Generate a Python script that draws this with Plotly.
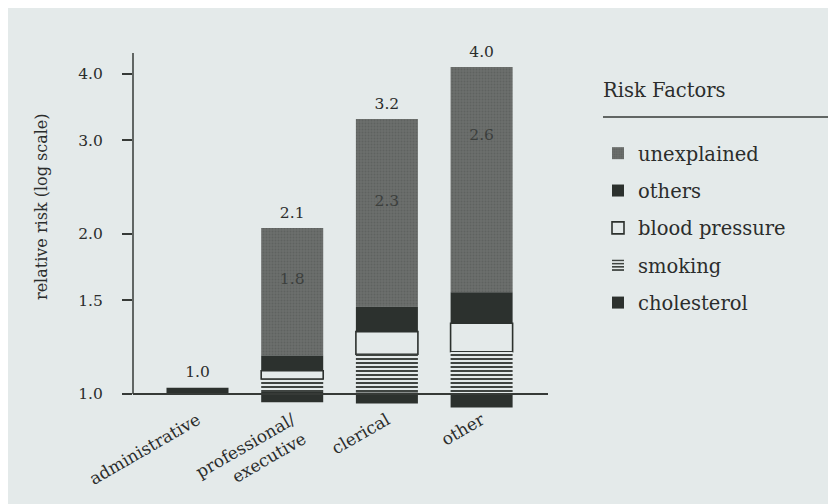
import plotly.graph_objects as go

# ---------------- data ----------------
categories = ["administrative", "professional/<br>executive", "clerical", "other"]
bar_base = [1.000, 0.965, 0.960, 0.943]
cholesterol_top = [1.028, 1.009, 1.006, 1.003]
smoking_top = [None, 1.067, 1.188, 1.201]
blood_pressure_top = [None, 1.106, 1.310, 1.359]
others_top = [None, 1.181, 1.460, 1.554]
unexplained_top = [None, 2.052, 3.291, 4.123]
total_labels = ["1.0", "2.1", "3.2", "4.0"]
unexplained_labels = ["", "1.8", "2.3", "2.6"]
unexplained_label_at = [None, 1.64, 2.30, 3.05]
y_tick_values = [1.0, 1.5, 2.0, 3.0, 4.0]
y_tick_labels = ["1.0", "1.5", "2.0", "3.0", "4.0"]

# ---------------- styles / layout ----------------
BG = "#e4eaea"
INK = "#2c312e"
TEXT = "#2b2d2c"
AXIS = "#363a37"
GREY = "#6b6e6c"
FONT = "DejaVu Serif"

PAGE_OFF = 8                      # browser body margin
W, H = 836 - PAGE_OFF, 504 - PAGE_OFF
REF_LEFT, REF_RIGHT, REF_TOP, REF_BOTTOM = 133, 548, 53, 412   # plot area in page px
L = REF_LEFT - PAGE_OFF
T = REF_TOP - PAGE_OFF
R = 836 - REF_RIGHT
B = 504 - REF_BOTTOM
plot_w = REF_RIGHT - REF_LEFT
plot_h = REF_BOTTOM - REF_TOP
cat_step = 94.7
first_center = 197.5
x_range = [(REF_LEFT - first_center) / cat_step, (REF_RIGHT - first_center) / cat_step]
px_per_decade = 531.5
axis_px = 394
y_log_top = (axis_px - REF_TOP) / px_per_decade
y_log_bot = (axis_px - REF_BOTTOM) / px_per_decade
x_axis_pos = (0 - y_log_bot) / (y_log_top - y_log_bot)


def px_x(px):
    return (px - REF_LEFT) / plot_w


def px_y(py):
    return (REF_BOTTOM - py) / plot_h


styles = {
    "cholesterol": dict(color=INK, line=dict(width=0)),
    "smoking": dict(color=INK, line=dict(width=0),
                    pattern=dict(shape="-", size=4, solidity=0.45,
                                 fgcolor=INK, bgcolor=BG, fillmode="replace")),
    "blood pressure": dict(color=BG, line=dict(width=1.6, color=INK)),
    "others": dict(color=INK, line=dict(width=0)),
    "unexplained": dict(color=GREY, line=dict(width=0),
                        pattern=dict(shape=".", size=3, solidity=0.35,
                                     fgcolor="#535654", fillmode="overlay")),
}

series = [
    ("cholesterol", cholesterol_top),
    ("smoking", smoking_top),
    ("blood pressure", blood_pressure_top),
    ("others", others_top),
    ("unexplained", unexplained_top),
]

# compute stacked segments bottom-up
segments = []
prev = list(bar_base)
for name, tops in series:
    bases, heights = [], []
    for p, t in zip(prev, tops):
        bases.append(p)
        heights.append(None if t is None else t - p)
    segments.append((name, bases, heights))
    prev = [p if t is None else t for p, t in zip(prev, tops)]
bar_tops = prev

fig = go.Figure()
# add top segment first so the legend reads top-to-bottom like the bars
for name, bases, heights in reversed(segments):
    fig.add_trace(go.Bar(
        x=categories, y=heights, base=bases, name=name,
        legendgroup=name, width=0.655, marker=styles[name],
        hoverinfo="skip",
    ))

# totals above bars
fig.add_trace(go.Scatter(
    x=categories, y=bar_tops, mode="markers+text", text=total_labels,
    textposition="top center", showlegend=False, hoverinfo="skip",
    cliponaxis=False,
    marker=dict(size=8.5, color="rgba(0,0,0,0)"),
    textfont=dict(family=FONT, size=15.5, color=TEXT),
))
# unexplained values inside grey segments
fig.add_trace(go.Scatter(
    x=categories, y=unexplained_label_at, mode="text", text=unexplained_labels,
    textposition="middle center", showlegend=False, hoverinfo="skip",
    textfont=dict(family=FONT, size=15.5, color="#3c3f3d"),
))

fig.update_layout(
    width=W, height=H,
    margin=dict(l=L, r=R, t=T, b=B, autoexpand=False),
    paper_bgcolor=BG, plot_bgcolor=BG,
    barmode="overlay",
    font=dict(family=FONT, color=TEXT),
    showlegend=True,
    legend=dict(
        x=px_x(598), y=px_y(134), xanchor="left", yanchor="top",
        traceorder="grouped", tracegroupgap=9,
        font=dict(family=FONT, size=19.5, color=TEXT),
        bgcolor="rgba(0,0,0,0)", borderwidth=0,
    ),
    xaxis=dict(
        type="category", range=x_range, anchor="free", position=x_axis_pos,
        showline=True, linecolor=AXIS, linewidth=1.5,
        showgrid=False, zeroline=False, ticks="", tickangle=-30,
        ticklabelstandoff=9, automargin=False,
        tickfont=dict(family=FONT, size=17, color=TEXT),
    ),
    yaxis=dict(
        type="log", range=[y_log_bot, y_log_top],
        tickvals=y_tick_values, ticktext=y_tick_labels,
        ticks="outside", ticklen=10, tickwidth=1.5, tickcolor=AXIS,
        ticklabelstandoff=16, showline=False, showgrid=False, zeroline=False,
        automargin=False,
        tickfont=dict(family=FONT, size=15.5, color=TEXT),
    ),
    shapes=[
        dict(type="line", xref="paper", yref="paper", x0=0, x1=0,
             y0=x_axis_pos, y1=1, line=dict(color=AXIS, width=1.5)),
        dict(type="line", xref="paper", yref="paper", x0=px_x(603), x1=px_x(836),
             y0=px_y(117), y1=px_y(117), line=dict(color=AXIS, width=1.5)),
    ],
    annotations=[
        dict(text="relative risk (log scale)", xref="paper", yref="paper",
             x=px_x(41), y=px_y(207), textangle=-90, showarrow=False,
             xanchor="center", yanchor="middle",
             font=dict(family=FONT, size=16, color=TEXT)),
        dict(text="Risk Factors", xref="paper", yref="paper",
             x=px_x(601), y=px_y(91), showarrow=False,
             xanchor="left", yanchor="middle",
             font=dict(family=FONT, size=19.5, color=TEXT)),
    ],
)

fig.write_html("out.html")
